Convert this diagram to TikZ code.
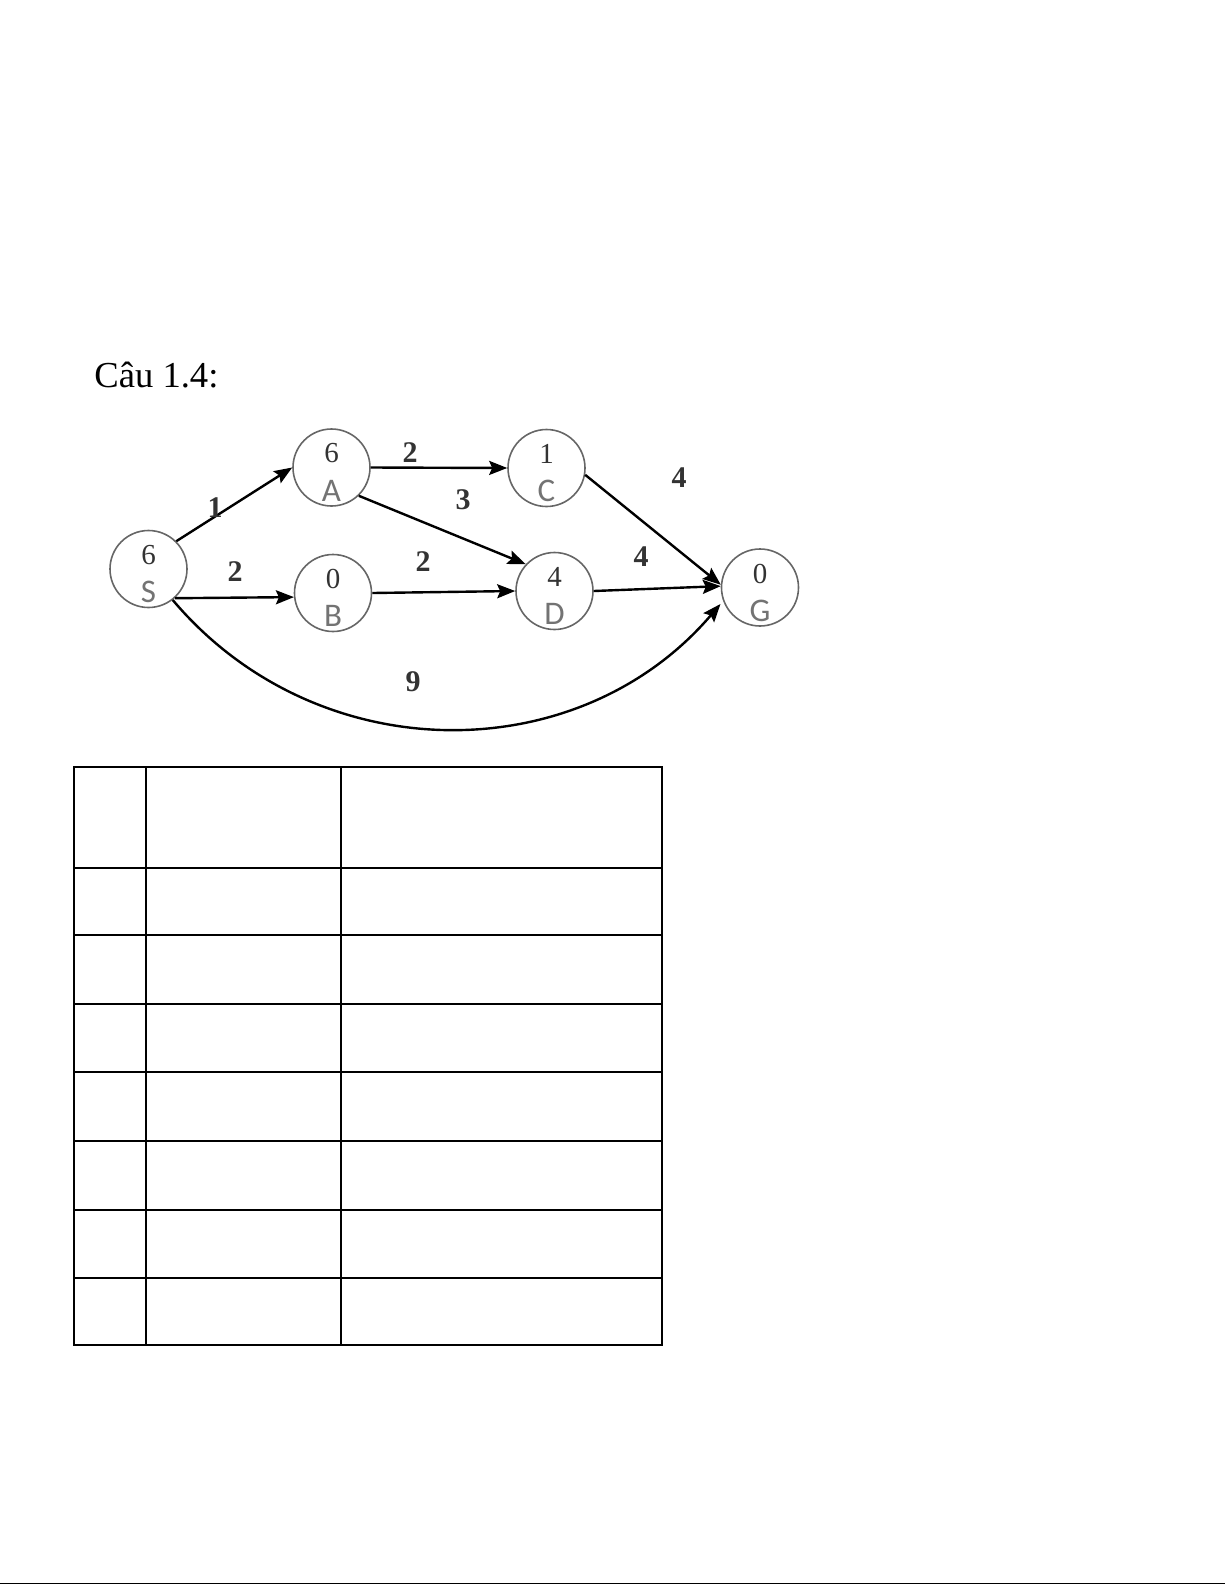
\documentclass[tikz,border=0pt]{standalone}
\usepackage{fontspec}
\setmainfont{Liberation Serif}
\newfontfamily\lblsans{Carlito}
\usetikzlibrary{arrows.meta,calc}
\begin{document}
\begin{tikzpicture}[x=0.5pt,y=-0.5pt,
  vtx/.style={circle,draw=black!60,line width=0.8pt,minimum size=38.5pt,inner sep=0pt},
  vnum/.style={font=\fontsize{14.5}{15}\selectfont,text=black!80,inner sep=0pt},
  vlet/.style={font=\lblsans\fontsize{16.5}{17}\selectfont,text=black!55,inner sep=0pt},
  wt/.style={font=\bfseries\fontsize{15}{15}\selectfont,text=black!80,inner sep=0pt},
  edge/.style={line width=1.2pt,-{Stealth[length=9pt,width=7pt,inset=1.5pt]}},
  gridline/.style={line width=1pt}]
\useasboundingbox (0,0) rectangle (1225,1585);
% title
\node[anchor=base west,inner sep=0pt,font=\fontsize{18.3}{20}\selectfont] (title) at (94,387) {Câu 1.4:};
% vertices
\node[vtx] (S) at (148.5,569) {};
\node[vtx] (A) at (331.5,467.5) {};
\node[vtx] (C) at (546.5,468) {};
\node[vtx] (B) at (333,593) {};
\node[vtx] (D) at (554.5,591) {};
\node[vtx] (G) at (760,587.5) {};
\foreach \v/\n/\l in {S/6/S,A/6/A,C/1/C,B/0/B,D/4/D,G/0/G}{
  \node[vnum] (\v num) at ($(\v)+(0,-14)$) {\n};
  \node[vlet] (\v let) at ($(\v)+(0,23)$) {\l};
}
% edges
\draw[edge] (S.45) -- (A.west);
\draw[edge] (S.-48) -- (B.186);
\draw[edge] (A.east) -- (C.west);
\draw[edge] (A.-46) -- (D.137);
\draw[edge] (B.east) -- (D.west);
\draw[edge] (C.-10) -- (G.176);
\draw[edge] (D.east) -- (G.178);
\draw[edge,shorten >=2pt] (S.-52) .. controls (317,771) and (578,771) .. (G.200);
% weights
\node[wt] (wSA) at (215,508) {1};
\node[wt] (wAC) at (410,453) {2};
\node[wt] (wAD) at (463,500) {3};
\node[wt] (wSB) at (235,572) {2};
\node[wt] (wBD) at (423,562) {2};
\node[wt] (wCG) at (679,478) {4};
\node[wt] (wDG) at (641,557) {4};
\node[wt] (wSG) at (413,682) {9};
% table
\draw[gridline] (73.8,767) rectangle (662,1345);
\foreach \xx in {146,341.3}{\draw[gridline] (\xx,767) -- (\xx,1345);}
\foreach \yy in {867.5,935,1003.5,1072,1141,1210,1277.5}{\draw[gridline] (73.8,\yy) -- (662,\yy);}
% bottom rule
\draw[line width=0.8pt] (0,1583.5) -- (1225,1583.5);
\end{tikzpicture}
\end{document}
